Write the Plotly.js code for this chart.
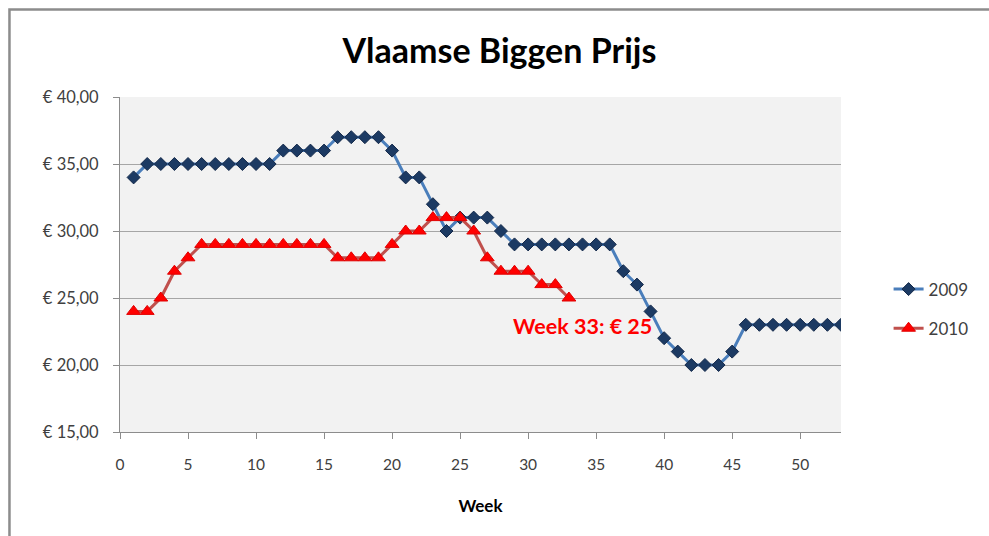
<!DOCTYPE html>
<html>
<head>
<meta charset="utf-8">
<script src="https://cdn.plot.ly/plotly-3.0.1.min.js"></script>
<style>
  html, body { margin: 0; padding: 0; background: #ffffff; }
  #chart { width: 989px; height: 536px; }
</style>
</head>
<body>
<div id="chart"></div>
<script>
// ---- data ----
const weeks2009 = [1,2,3,4,5,6,7,8,9,10,11,12,13,14,15,16,17,18,19,20,21,22,23,24,25,26,27,28,29,30,31,32,33,34,35,36,37,38,39,40,41,42,43,44,45,46,47,48,49,50,51,52,53];
const prices2009 = [34,35,35,35,35,35,35,35,35,35,35,36,36,36,36,37,37,37,37,36,34,34,32,30,31,31,31,30,29,29,29,29,29,29,29,29,27,26,24,22,21,20,20,20,21,23,23,23,23,23,23,23,23];
const weeks2010 = [1,2,3,4,5,6,7,8,9,10,11,12,13,14,15,16,17,18,19,20,21,22,23,24,25,26,27,28,29,30,31,32,33];
const prices2010 = [24,24,25,27,28,29,29,29,29,29,29,29,29,29,29,28,28,28,28,29,30,30,31,31,31,30,28,27,27,27,26,26,25];
const seriesNames = ["2009", "2010"];
const xTickVals = [0,5,10,15,20,25,30,35,40,45,50];
const yTickVals = [15,20,25,30,35,40];
const yTickLabels = ["€ 15,00","€ 20,00","€ 25,00","€ 30,00","€ 35,00","€ 40,00"];
const chartTitle = "Vlaamse Biggen Prijs";
const xTitle = "Week";

const lastWeek = weeks2010[weeks2010.length - 1];
const lastPrice = prices2010[prices2010.length - 1];

const traces = [
  {
    x: weeks2009, y: prices2009, name: seriesNames[0], legendgroup: "g2009",
    type: "scatter", mode: "lines+markers",
    line: { color: "#4a7ebb", width: 3 },
    marker: { symbol: "diamond", size: 10, color: "#1c3a63", line: { color: "#14294a", width: 1 } }
  },
  {
    x: weeks2010, y: prices2010, name: seriesNames[1], legendgroup: "g2010",
    type: "scatter", mode: "lines+markers",
    line: { color: "#c0504d", width: 3 },
    marker: { symbol: "triangle-up", size: 12, color: "#ff0000", line: { color: "#e00000", width: 1 } }
  }
];

const fontFam = "Lato, 'Open Sans', 'Liberation Sans', sans-serif";

const layout = {
  width: 989, height: 536,
  margin: { l: 120, r: 148, t: 97, b: 104 },
  paper_bgcolor: "#ffffff",
  plot_bgcolor: "#f2f2f2",
  separators: ",.",
  font: { family: fontFam, color: "#404040", size: 15 },
  title: {
    text: "<b>" + chartTitle + "</b>",
    font: { family: fontFam, size: 34, color: "#000000" },
    x: 0.505, xanchor: "center", y: 0.905, yanchor: "middle", yref: "container"
  },
  xaxis: {
    range: [0, 53], tickvals: xTickVals,
    showgrid: false, zeroline: false,
    showline: true, linecolor: "#8c8c8c", linewidth: 1,
    ticks: "outside", ticklen: 6, tickcolor: "#8c8c8c",
    ticklabelstandoff: 12,
    tickfont: { family: fontFam, size: 15.5, color: "#404040" },
    title: { text: "<b>" + xTitle + "</b>", font: { family: fontFam, size: 17, color: "#000000" }, standoff: 28 }
  },
  yaxis: {
    range: [15, 40], tickvals: yTickVals, ticktext: yTickLabels,
    showgrid: true, gridcolor: "#a6a6a6", gridwidth: 1,
    zeroline: false,
    showline: true, linecolor: "#8c8c8c", linewidth: 1,
    ticks: "outside", ticklen: 6, tickcolor: "#8c8c8c",
    ticklabelstandoff: 11,
    tickfont: { family: fontFam, size: 16.5, color: "#404040" }
  },
  legend: {
    x: 1.066, xanchor: "left", y: 0.367, yanchor: "middle",
    font: { family: fontFam, size: 17, color: "#404040" },
    bgcolor: "rgba(0,0,0,0)", tracegroupgap: 14
  },
  annotations: [{
    x: lastWeek, y: lastPrice, xref: "x", yref: "y",
    text: "<b>Week " + lastWeek + ": € " + lastPrice + "</b>",
    showarrow: false, xanchor: "center", yanchor: "middle",
    xshift: 14, yshift: -28,
    font: { family: fontFam, size: 21.5, color: "#ff0000" }
  }],
  shapes: [{
    type: "rect", xref: "paper", yref: "paper",
    x0: -0.1533, x1: 1.23, y0: -0.36, y1: 1.2612,
    line: { color: "#8c8c8c", width: 2.5 }, fillcolor: "rgba(0,0,0,0)", layer: "below"
  }],
  showlegend: true
};

Plotly.newPlot("chart", traces, layout, { displayModeBar: false, staticPlot: true });
</script>
</body>
</html>
